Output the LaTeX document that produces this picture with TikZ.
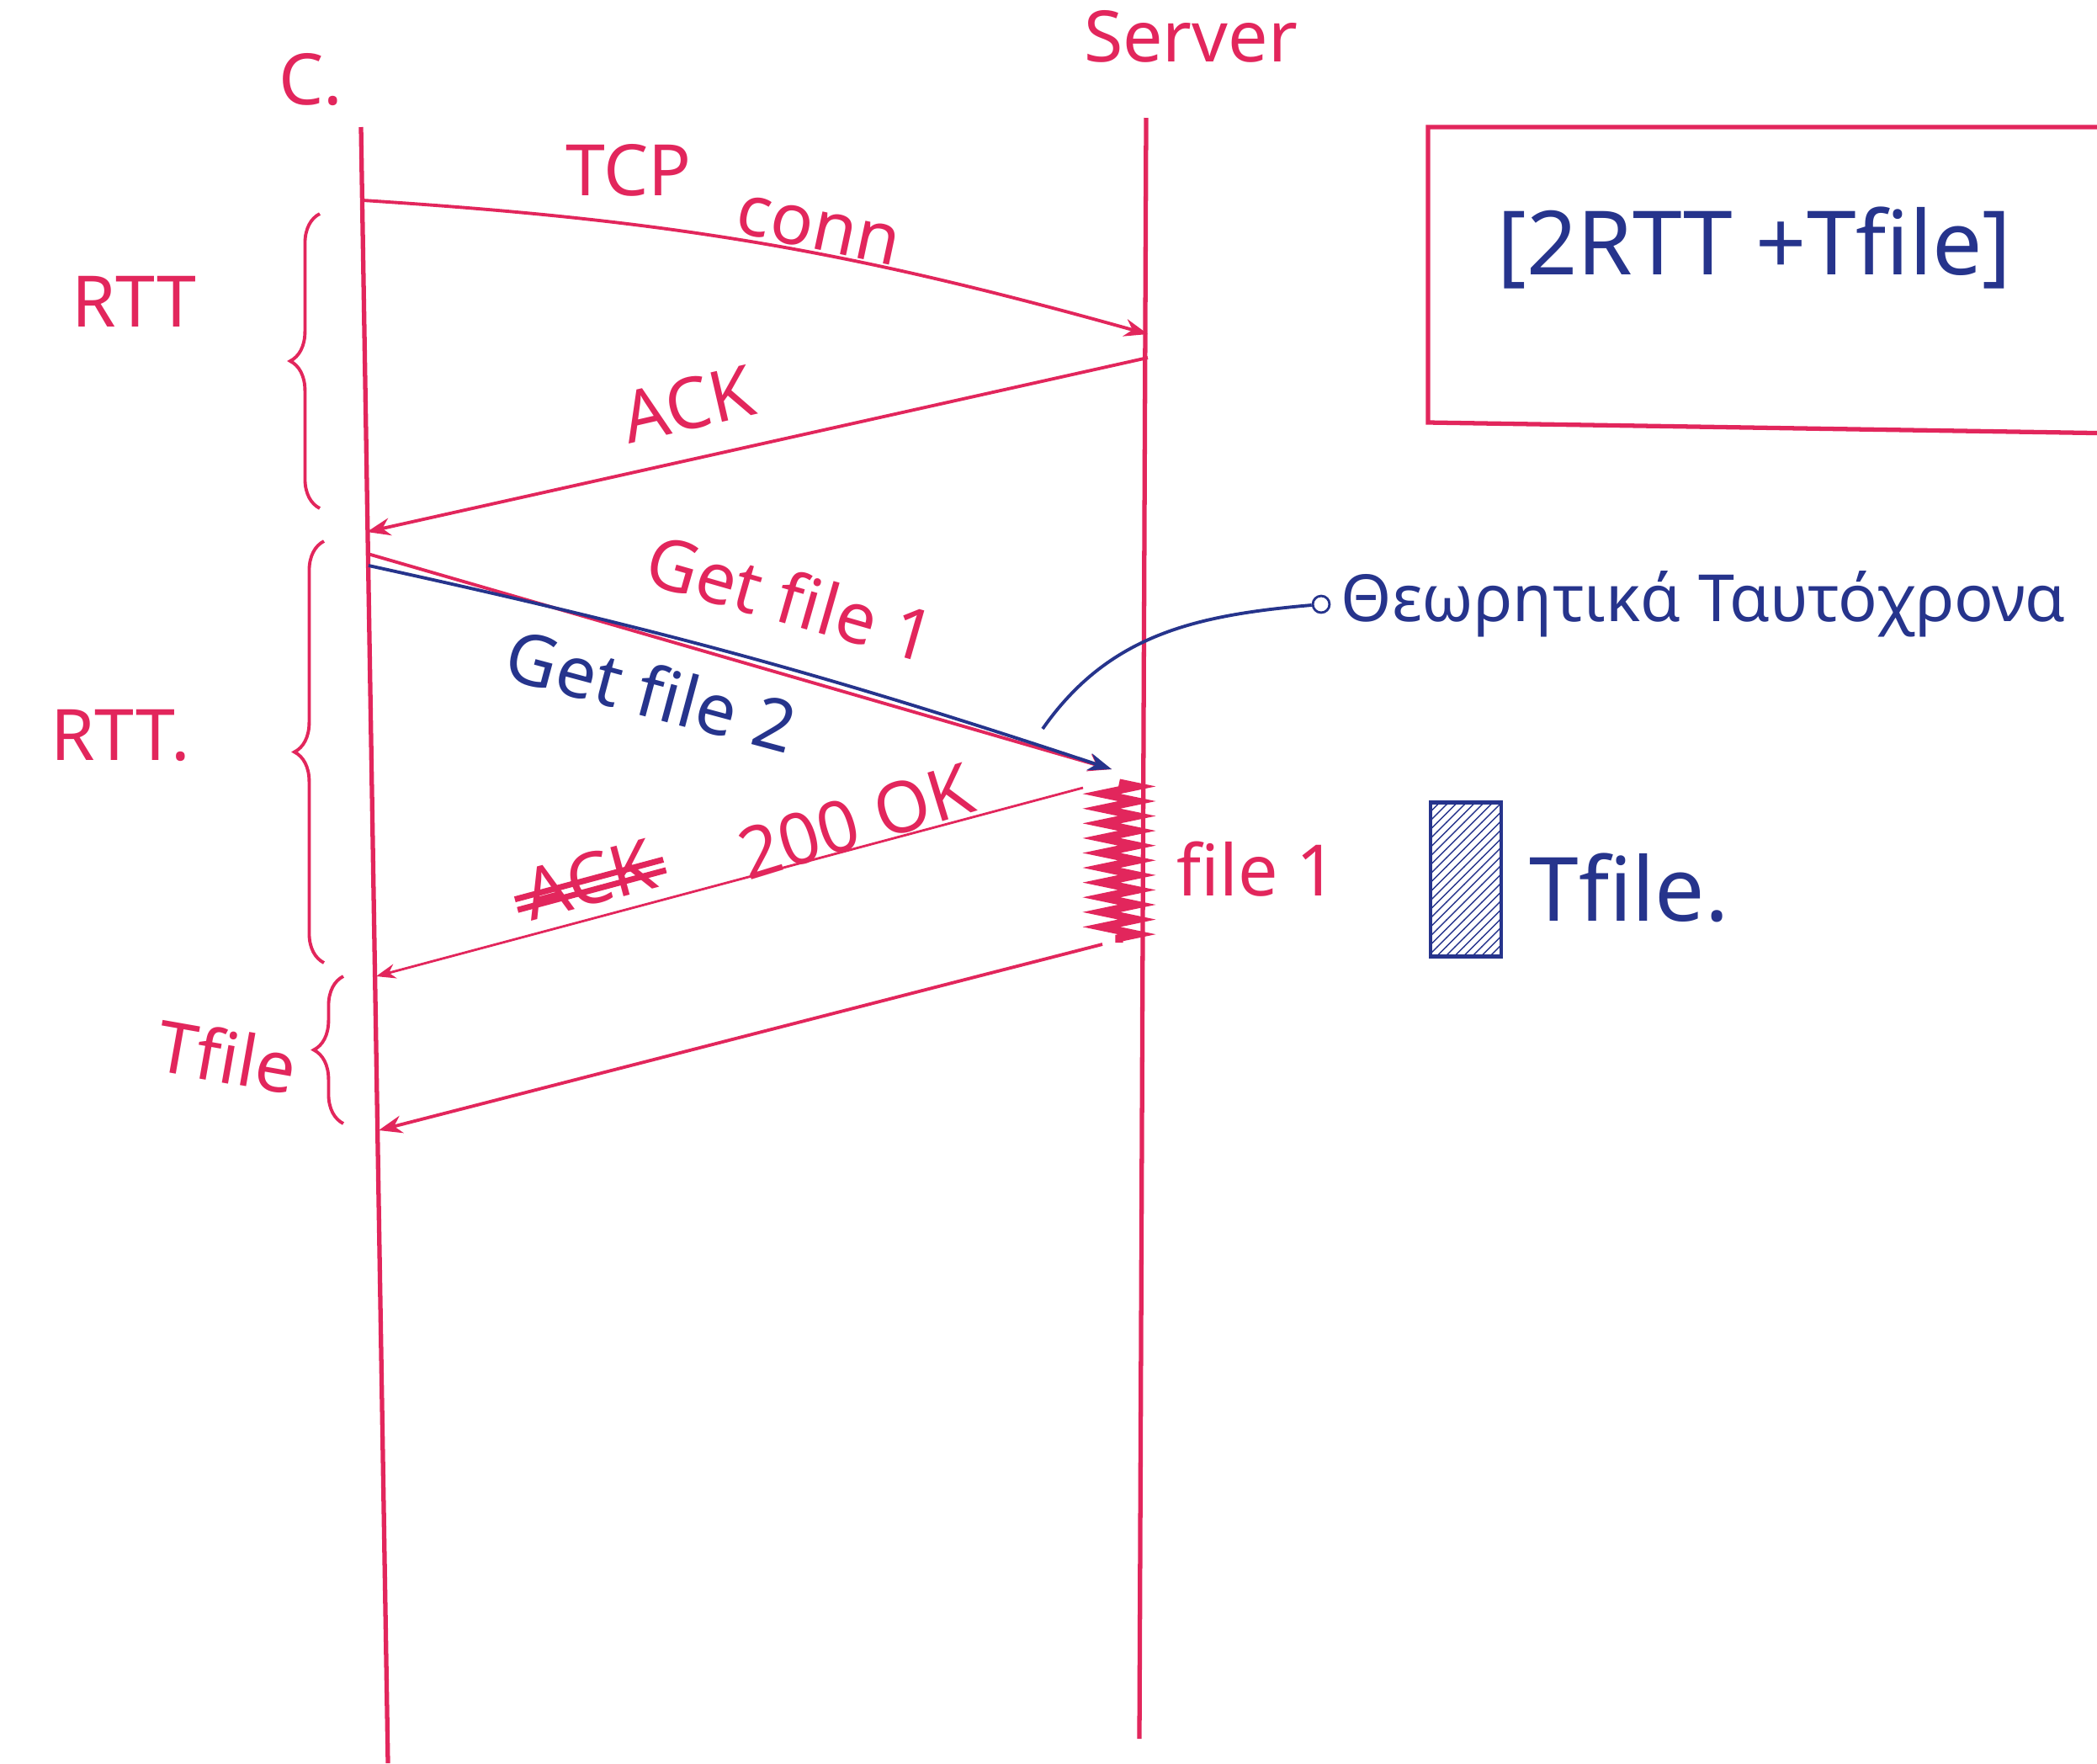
\documentclass[tikz,border=0pt]{standalone}
\usepackage{fontspec}
\setmainfont{Noto Sans}
\usepackage{xcolor}
\usetikzlibrary{arrows.meta,positioning,calc,decorations.pathmorphing,decorations.pathreplacing,patterns}
\definecolor{penred}{RGB}{226,38,92}
\definecolor{penblue}{RGB}{38,52,140}
\tikzset{
  lifeline/.style={penred,line width=1.5pt},
  msg/.style={penred,line width=1.1pt,->},
  rttbrace/.style={penred,line width=1.1pt,decorate,decoration={brace,amplitude=10pt}},
  redtxt/.style={text=penred},
  bluetxt/.style={text=penblue},
}
\begin{document}
\begin{tikzpicture}[>=Stealth,font=\fontsize{24}{28}\selectfont]
  \useasboundingbox (0,0) rectangle (24.92,-20.95);
  \node[redtxt] (client) at (3.69,-0.95) {C.};
  \node[redtxt,anchor=north] (server) at (14.15,0) {Server};
  \coordinate (ctop) at (4.29,-1.51);
  \coordinate (cbot) at (4.61,-20.95);
  \coordinate (stop) at (13.62,-1.40);
  \coordinate (sbot) at (13.54,-20.66);
  \draw[lifeline] (ctop) -- (cbot);
  \draw[lifeline] (stop) -- (sbot);
  \coordinate (c1) at (4.31,-2.38);
  \coordinate (s1) at (13.64,-3.97);
  \coordinate (s2) at (13.64,-4.25);
  \coordinate (c2) at (4.36,-6.32);
  \coordinate (c3) at (4.37,-6.58);
  \coordinate (c4) at (4.38,-6.72);
  \coordinate (s3) at (13.21,-9.14);
  \coordinate (s4) at (12.87,-9.36);
  \coordinate (c5) at (4.47,-11.60);
  \coordinate (sf1) at (13.30,-9.30);
  \coordinate (sf2) at (13.30,-11.20);
  \coordinate (s5) at (13.10,-11.22);
  \coordinate (c6) at (4.50,-13.43);
  \draw[msg] (c1) to[bend left=6] (s1);
  \draw[msg] (s2) -- (c2);
  \draw[msg] (c3) -- (s3);
  \draw[->,penblue,line width=1.1pt] (c4) to[bend left=3] (s3);
  \draw[msg,line width=0.8pt] (s4) -- (c5);
  \draw[penred,line width=2.6pt,decorate,decoration={zigzag,segment length=5pt,amplitude=6pt}] (sf1) -- (sf2);
  \draw[msg] (s5) -- (c6);
  \node[redtxt] (tcp) at (7.47,-2.02) {TCP};
  \node[redtxt,rotate=-12] (conn) at (9.72,-2.74) {conn};
  \node[redtxt,rotate=13] (ack) at (8.18,-4.80) {ACK};
  \node[redtxt,rotate=-16] (get1) at (9.40,-7.10) {Get file 1};
  \node[bluetxt,rotate=-15] (get2) at (7.74,-8.20) {Get file 2};
  \node[redtxt,rotate=17] (ok) at (10.17,-9.76) {200 OK};
  \node[redtxt,rotate=15] (struck) at (7.00,-10.45) {ACK};
  \draw[penred,line width=2pt] (struck.west) -- (struck.east);
  \draw[penred,line width=2pt] ($(struck.west)!0.3!(struck.south west)$) -- ($(struck.east)!0.3!(struck.south east)$);
  \draw[rttbrace] (3.80,-6.04) -- (3.80,-2.54);
  \draw[rttbrace] (3.85,-11.44) -- (3.85,-6.43);
  \draw[rttbrace] (4.08,-13.35) -- (4.08,-11.60);
  \node[redtxt] (rtt1) at (1.59,-3.58) {RTT};
  \node[redtxt] (rtt2) at (1.43,-8.74) {RTT.};
  \node[redtxt,rotate=-10] (tf) at (2.70,-12.55) {Tfile};
  \draw[penred,line width=1.5pt] (25.2,-1.51) -| (16.97,-5.02) -- (25.2,-5.15);
  \node[bluetxt,font=\fontsize{30}{34}\selectfont] (total) at (20.85,-2.94) {[2RTT +Tfile]};
  \coordinate (ann) at (12.39,-8.66);
  \node[circle,draw=penblue,line width=0.8pt,inner sep=2pt] (dot) at (15.70,-7.18) {};
  \draw[penblue,line width=1.1pt] (ann) to[out=55,in=185] (dot);
  \node[bluetxt,anchor=west,font=\fontsize{22}{26}\selectfont] (simul) at (dot.east) {Θεωρητικά Ταυτόχρονα};
  \node[redtxt] (file1) at (14.94,-10.33) {file 1};
  \node[draw=penblue,line width=1.2pt,pattern=north east lines,pattern color=penblue,minimum width=0.84cm,minimum height=1.83cm] (hatch) at (17.42,-10.45) {};
  \node[bluetxt,anchor=west,font=\fontsize{30}{34}\selectfont] (tfile) at (18.05,-10.55) {Tfile.};
\end{tikzpicture}
\end{document}
